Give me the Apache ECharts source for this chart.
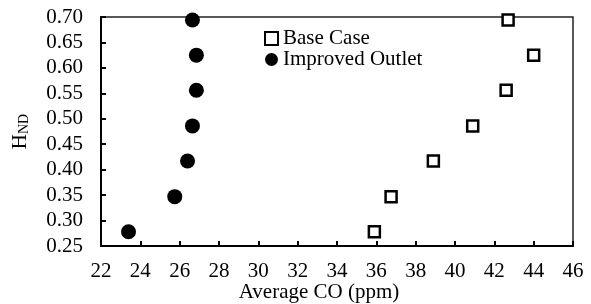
<!DOCTYPE html>
<html>
<head>
<meta charset="utf-8">
<script src="https://cdn.jsdelivr.net/npm/echarts@6/dist/echarts.min.js"></script>
<style>html,body{margin:0;padding:0;background:#fff}#c{width:591px;height:304px}</style>
</head>
<body>
<div id="c"></div>
<script>
var hnd = [0.278, 0.347, 0.417, 0.486, 0.556, 0.625, 0.694];
var baseCaseCO = [35.9, 36.75, 38.9, 40.9, 42.6, 44.0, 42.7];
var improvedCO = [23.4, 25.75, 26.4, 26.65, 26.85, 26.85, 26.65];
var xTicks = [22, 24, 26, 28, 30, 32, 34, 36, 38, 40, 42, 44, 46];
var yTicks = ['0.25','0.30','0.35','0.40','0.45','0.50','0.55','0.60','0.65','0.70'];

function pairs(xs, ys){ return xs.map(function(x,i){ return [x, ys[i]]; }); }

var font = 'Liberation Serif';
var fs = 21;
var chart = echarts.init(document.getElementById('c'), null, {renderer:'canvas'});
chart.setOption({
  animation: false,
  backgroundColor: '#fff',
  grid: {left: 101, right: 18, top: 17, bottom: 58, show: true, borderColor: '#222', borderWidth: 1.5,
         containLabel: false, outerBoundsMode: 'none'},
  legend: {
    orient: 'vertical', left: 259, top: 23, itemGap: 0, itemWidth: 13, itemHeight: 13,
    textStyle: {fontFamily: font, fontSize: fs, color: '#000'},
    data: ['Base Case', 'Improved Outlet']
  },
  xAxis: {
    type: 'value', min: xTicks[0], max: xTicks[xTicks.length-1], interval: 2,
    name: 'Average CO (ppm)', nameLocation: 'middle', nameGap: 36, nameMoveOverlap: false,
    nameTextStyle: {fontFamily: font, fontSize: fs, color: '#000', padding: [0, 36, 0, 0]},
    axisLine: {lineStyle: {color: '#000', width: 2}},
    axisTick: {inside: true, length: 5, lineStyle: {color: '#000', width: 2}},
    axisLabel: {fontFamily: font, fontSize: fs, color: '#000', margin: 15},
    splitLine: {show: false}
  },
  yAxis: {
    type: 'value', min: 0.25, max: 0.70, interval: 0.05,
    name: '{a|H}{b|ND}', nameLocation: 'middle', nameGap: 70, nameMoveOverlap: false,
    nameTextStyle: {rich: {
      a: {fontFamily: font, fontSize: fs, color: '#000'},
      b: {fontFamily: font, fontSize: 14, color: '#000', verticalAlign: 'bottom', padding: [8,0,0,0]}
    }},
    axisLine: {show: true, lineStyle: {color: '#000', width: 2}},
    axisTick: {show: true, inside: true, length: 5, lineStyle: {color: '#000', width: 2}},
    axisLabel: {fontFamily: font, fontSize: fs, color: '#000', margin: 18,
      formatter: function(v){ return v.toFixed(2); }},
    splitLine: {show: false}
  },
  series: [
    {name: 'Base Case', type: 'scatter', symbol: 'rect', symbolSize: 11,
     itemStyle: {color: '#fff', borderColor: '#000', borderWidth: 2.5, opacity: 1},
     data: pairs(baseCaseCO, hnd)},
    {name: 'Improved Outlet', type: 'scatter', symbol: 'circle', symbolSize: 15,
     itemStyle: {color: '#000', opacity: 1},
     data: pairs(improvedCO, hnd)}
  ]
});
</script>
</body>
</html>
